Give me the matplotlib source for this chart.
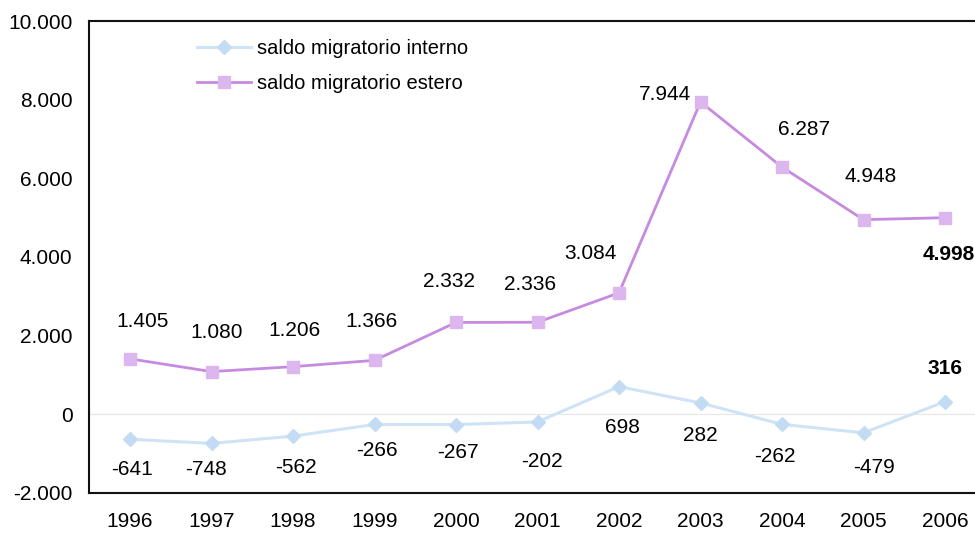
import numpy as np
import matplotlib
matplotlib.use("Agg")
import matplotlib.pyplot as plt
from matplotlib import font_manager

# dati
anni = ["1996", "1997", "1998", "1999", "2000", "2001", "2002", "2003", "2004", "2005", "2006"]
saldo_interno = [-641, -748, -562, -266, -267, -202, 698, 282, -262, -479, 316]
saldo_estero = [1405, 1080, 1206, 1366, 2332, 2336, 3084, 7944, 6287, 4948, 4998]

# spostamento etichette (pixel)
off_estero = [(13, 37), (5, 39), (1, 36), (-3, 39), (-7, 41), (-7, 38),
              (-29, 39), (-35, 7), (22, 38), (7, 43), (4, -37)]
off_interno = [(2, -30), (-6, -26), (3, -31), (2, -26), (2, -28), (4, -40),
               (3, -41), (0, -33), (-7, -32), (10, -35), (0, 33)]

names = {f.name for f in font_manager.fontManager.ttflist}
fam = "Liberation Sans Narrow" if "Liberation Sans Narrow" in names else "Liberation Sans"
plt.rcParams["font.family"] = [fam, "DejaVu Sans"]


def fmt(v):
    return f"{v:,}".replace(",", ".")


col_int_line = "#cfe3f6"
col_int_mark = "#c3dcf4"
col_est_line = "#c68ae0"
col_est_mark = "#dcb6ee"

fig = plt.figure(figsize=(9.75, 5.41), dpi=100)
ax = fig.add_axes([89.25 / 975, 1 - 492.6 / 541, 896.5 / 975, 471.4 / 541])

x = np.arange(len(anni))
ax.axhline(0, color="#e6e6e6", lw=0.8, zorder=1)
ax.plot(x, saldo_interno, color=col_int_line, lw=2.2, marker="D", ms=7,
        mfc=col_int_mark, mec=col_int_mark, label="saldo migratorio interno", zorder=3)
ax.plot(x, saldo_estero, color=col_est_line, lw=2, marker="s", ms=8,
        mfc=col_est_mark, mec=col_est_mark, label="saldo migratorio estero", zorder=3)

for i, v in enumerate(saldo_estero):
    ax.annotate(fmt(v), (x[i], v), xytext=off_estero[i], textcoords="offset pixels",
                ha="center", va="center", fontsize=15,
                fontweight="bold" if i == len(x) - 1 else "normal")
for i, v in enumerate(saldo_interno):
    ax.annotate(fmt(v), (x[i], v), xytext=off_interno[i], textcoords="offset pixels",
                ha="center", va="center", fontsize=15,
                fontweight="bold" if i == len(x) - 1 else "normal")

ax.set_xlim(-0.5, len(x) - 0.5)
ax.set_ylim(-2000, 10000)
ax.set_yticks(range(-2000, 10001, 2000))
ax.set_yticklabels([fmt(t) for t in range(-2000, 10001, 2000)], fontsize=15)
ax.set_xticks(x)
ax.set_xticklabels(anni, fontsize=15)
ax.tick_params(axis="both", length=0)
ax.tick_params(axis="y", pad=12)
ax.tick_params(axis="x", pad=14)

for s in ["left", "bottom", "top"]:
    ax.spines[s].set_linewidth(1.5)
    ax.spines[s].set_color("#111111")
ax.spines["right"].set_visible(False)

leg = ax.legend(loc="upper left", bbox_to_anchor=(0.1, 1.0), frameon=False,
                fontsize=14.5, handlelength=2.7, handletextpad=0.3, labelspacing=0.8)

fig.savefig("out.png", dpi=100)
